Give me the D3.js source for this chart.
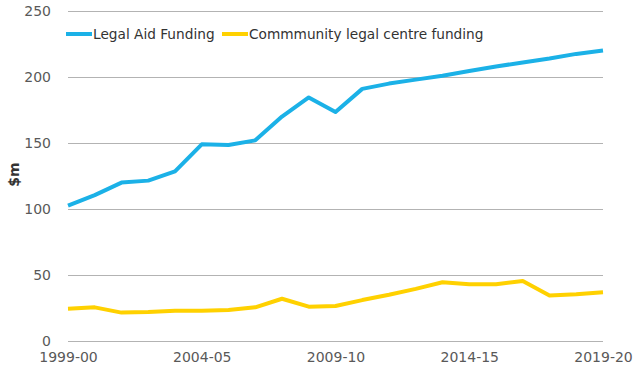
<!DOCTYPE html>
<html>
<head>
<meta charset="utf-8">
<script src="https://cdn.jsdelivr.net/npm/d3@7"></script>
<style>
  body { margin: 0; background: #fff; }
  #chart { width: 640px; height: 384px; }
  text { font-family: "DejaVu Sans", Verdana, sans-serif; }
</style>
</head>
<body>
<div id="chart"></div>
<script>
// Data
const years = ["1999-00","2000-01","2001-02","2002-03","2003-04","2004-05","2005-06","2006-07",
    "2007-08","2008-09","2009-10","2010-11","2011-12","2012-13","2013-14","2014-15",
    "2015-16","2016-17","2017-18","2018-19","2019-20"];
const legalAid = [102.5, 110.5, 120, 121.5, 128.5, 149, 148.5, 152, 170, 184.5, 173.5,
    191, 195, 198, 201, 204.5, 208, 211, 214, 217.5, 220];
const communityLegal = [24.5, 25.5, 21.5, 22, 23, 23, 23.5, 25.5, 32, 26, 26.5,
    31, 35, 39.5, 44.5, 43, 43, 45.5, 34.5, 35.5, 37];
const xTickLabels = ["1999-00","2004-05","2009-10","2014-15","2019-20"];
const yTicks = [0, 50, 100, 150, 200, 250];

const series = [
    {name: "Legal Aid Funding", values: legalAid, color: "#1bb1e7"},
    {name: "Commmunity legal centre funding", values: communityLegal, color: "#ffd100"}
];

const margin = {top: 11, right: 37, bottom: 43, left: 68};
const width = 640 - margin.left - margin.right;
const height = 384 - margin.top - margin.bottom;

const svg = d3.select("#chart").append("svg")
    .attr("width", 640)
    .attr("height", 384)
    .append("g")
    .attr("transform", "translate(" + margin.left + "," + margin.top + ")");

// Scales
const x = d3.scalePoint().domain(years).range([0, width]);
const y = d3.scaleLinear().domain([0, 250]).range([height, 0]);

// Gridlines
svg.append("g")
    .attr("class", "grid")
    .call(d3.axisLeft(y).tickValues(yTicks).tickSize(-width).tickFormat(""))
    .call(g => g.select(".domain").remove())
    .selectAll("line")
    .attr("stroke", "#b3b3b3")
    .attr("stroke-width", 1.2);

// Y axis labels
svg.append("g")
    .call(d3.axisLeft(y).tickValues(yTicks).tickSize(0).tickPadding(17))
    .call(g => g.select(".domain").remove())
    .selectAll("text")
    .attr("fill", "#595959")
    .style("font-size", "14px");

// X axis labels
svg.append("g")
    .attr("transform", "translate(0," + height + ")")
    .call(d3.axisBottom(x).tickValues(xTickLabels).tickSize(0).tickPadding(11))
    .call(g => g.select(".domain").remove())
    .selectAll("text")
    .attr("fill", "#595959")
    .style("font-size", "14px");

// Y axis title
svg.append("text")
    .attr("transform", `translate(${-margin.left + 19}, ${y(126)}) rotate(-90)`)
    .attr("text-anchor", "middle")
    .attr("fill", "#333")
    .style("font-size", "14px")
    .style("font-weight", "bold")
    .text("$m");

// Lines
const line = d3.line()
    .x((d, i) => x(years[i]))
    .y(d => y(d));

svg.selectAll(".series")
    .data(series)
    .enter()
    .append("path")
    .attr("class", "series")
    .attr("fill", "none")
    .attr("stroke", d => d.color)
    .attr("stroke-width", 4)
    .attr("stroke-linejoin", "round")
    .attr("d", d => line(d.values));

// Legend
const legend = svg.append("g")
    .attr("transform", "translate(-2," + (34 - margin.top) + ")");

const legendX = [0, 156];
const items = legend.selectAll(".legend-item")
    .data(series)
    .enter()
    .append("g")
    .attr("class", "legend-item")
    .attr("transform", (d, i) => "translate(" + legendX[i] + ",0)");

items.append("line")
    .attr("x1", 0)
    .attr("x2", 26)
    .attr("stroke", d => d.color)
    .attr("stroke-width", 4);

items.append("text")
    .attr("x", 27)
    .attr("dy", "0.35em")
    .attr("fill", "#333")
    .style("font-size", "13.7px")
    .text(d => d.name);
</script>
</body>
</html>
